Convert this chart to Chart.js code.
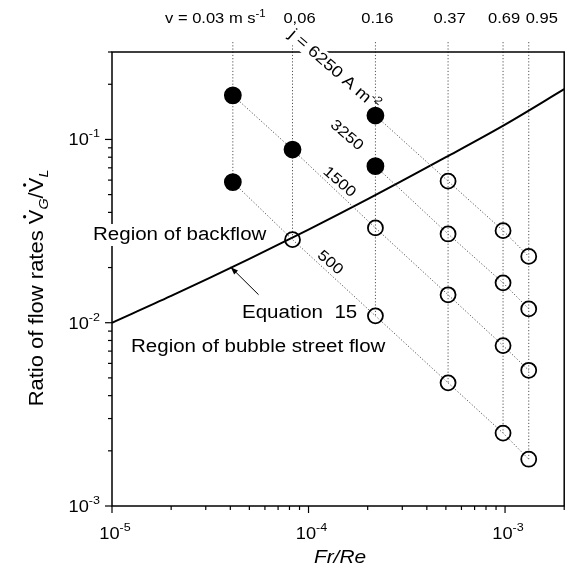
<!DOCTYPE html>
<html>
<head>
<meta charset="utf-8">
<script src="https://cdn.jsdelivr.net/npm/chart.js@4.4.0/dist/chart.umd.min.js"></script>
<style>
  html, body { margin: 0; padding: 0; background: #fff; }
  #wrap { width: 574px; height: 579px; }
</style>
</head>
<body>
<div id="wrap"><canvas id="chart" width="574" height="579"></canvas></div>
<script>
// Fr/Re of the six columns (one per gas velocity v)
const frRe = [4.12e-5, 8.29e-5, 2.19e-4, 5.13e-4, 9.77e-4, 1.32e-3];
const velocityLabels = ['0.03', '0,06', '0.16', '0.37', '0.69', '0.95'];

// ratio of flow rates per current density j (null = no point)
const j6250 = [null, null, 0.135, 0.0592, 0.0318, 0.0230];
const j3250 = [null, null, 0.0715, 0.0305, 0.0165, 0.0119];
const j1500 = [0.174, 0.0881, 0.0329, 0.0142, 0.0075, 0.0055];
const j500  = [0.0585, 0.0284, 0.0109, 0.0047, 0.0025, 0.0018];

// 1 = backflow (filled marker), 0 = bubble street flow (open marker)
const back6250 = [0, 0, 1, 0, 0, 0];
const back3250 = [0, 0, 1, 0, 0, 0];
const back1500 = [1, 1, 0, 0, 0, 0];
const back500  = [1, 0, 0, 0, 0, 0];

// Equation 15 boundary line
const eqX = [1e-5, 2e-5, 5e-5, 1e-4, 2e-4, 5e-4, 1e-3, 2e-3];
const eqY = [0.0100, 0.0140, 0.0223, 0.0322, 0.0472, 0.0800, 0.1205, 0.188];

// vertical guide lines start a little above the frame
const guideTop = 0.34;

const FONT = '"Liberation Sans", Arial, sans-serif';

function fontOf(r) {
  return (r.italic ? 'italic ' : '') + r.size + 'px ' + FONT;
}

// draws a row of text runs (for superscripts / subscripts)
function drawRuns(ctx, runs, x, y, o = {}) {
  const sx = o.sx || 1.14;
  ctx.save();
  ctx.translate(x, y);
  if (o.rot) ctx.rotate(o.rot);
  ctx.scale(sx, 1);
  ctx.textAlign = 'left';
  ctx.textBaseline = 'alphabetic';
  let total = 0;
  runs.forEach((r) => {
    ctx.font = fontOf(r);
    r.w = ctx.measureText(r.t).width;
    total += r.w;
  });
  let cx = o.align === 'center' ? -total / 2 : o.align === 'right' ? -total : 0;
  const vs = o.vshift || 0;
  if (o.bg) {
    const bw = o.bgFirstOnly ? runs[0].w : total;
    ctx.fillStyle = '#fff';
    ctx.fillRect(cx - 2, vs - o.bg[0], bw + 3, o.bg[0] + o.bg[1]);
  }
  ctx.fillStyle = '#000';
  runs.forEach((r) => {
    ctx.font = fontOf(r);
    ctx.fillText(r.t, cx, vs + (r.dy || 0));
    if (r.dot) {
      ctx.beginPath();
      ctx.arc(cx + r.w * 0.5, vs - r.size * 0.72 - 4, 1.6, 0, Math.PI * 2);
      ctx.fill();
    }
    cx += r.w;
  });
  ctx.restore();
}

function logTicks(min, max) {
  const out = [];
  for (let e = Math.floor(Math.log10(min)); e <= Math.ceil(Math.log10(max)); e++) {
    for (let m = 1; m < 10; m++) {
      const v = m * Math.pow(10, e);
      if (v >= min * 0.999 && v <= max * 1.001) out.push({ v, major: m === 1, e });
    }
  }
  return out;
}

function jSeries(label, vals, back) {
  const idx = vals.map((v, i) => i).filter((i) => vals[i] !== null);
  return {
    label,
    data: idx.map((i) => ({ x: frRe[i], y: vals[i] })),
    borderColor: '#555',
    borderWidth: 1,
    borderDash: [1.2, 2],
    pointRadius: idx.map((i) => (back[i] ? 8 : 7.5)),
    pointBorderColor: '#000',
    pointBorderWidth: 1.8,
    pointBackgroundColor: idx.map((i) => (back[i] ? '#000' : 'rgba(0,0,0,0)')),
    order: 1,
  };
}

const allSeries = [j6250, j3250, j1500, j500];
const guides = frRe.map((x, i) => {
  const lowest = Math.min(...allSeries.map((s) => s[i]).filter((v) => v !== null));
  return {
    label: 'v' + i,
    data: [{ x, y: guideTop }, { x, y: lowest }],
    borderColor: '#555',
    borderWidth: 1,
    borderDash: [1.2, 2],
    pointRadius: 0,
    clip: false,
    order: 3,
  };
});

const annotations = {
  id: 'annotations',
  afterDraw(chart) {
    const ctx = chart.ctx;
    const xs = chart.scales.x;
    const ys = chart.scales.y;
    const a = chart.chartArea;

    // frame
    ctx.save();
    ctx.strokeStyle = '#000';
    ctx.lineWidth = 1.5;
    ctx.strokeRect(a.left, a.top, a.right - a.left, a.bottom - a.top);

    // tick marks and labels
    ctx.lineWidth = 1.2;
    logTicks(xs.min, xs.max).forEach((t) => {
      const px = xs.getPixelForValue(t.v);
      ctx.beginPath();
      ctx.moveTo(px, a.bottom);
      ctx.lineTo(px, a.bottom + (t.major ? 7 : 4));
      ctx.stroke();
      if (t.major) {
        drawRuns(ctx, [{ t: '10', size: 16 }, { t: String(t.e), size: 11, dy: -8 }], px + 3, 539, { align: 'center' });
      }
    });
    logTicks(ys.min, ys.max).forEach((t) => {
      const py = ys.getPixelForValue(t.v);
      ctx.beginPath();
      ctx.moveTo(a.left, py);
      ctx.lineTo(a.left - (t.major ? 7 : 4), py);
      ctx.stroke();
      if (t.major) {
        drawRuns(ctx, [{ t: '10', size: 16 }, { t: String(t.e), size: 11, dy: -8 }], a.left - 12, py + 6, { align: 'right' });
      }
    });
    ctx.restore();

    // velocity labels on top
    const dx = [-17.5, 7, 2, 1.5, 1, 13];
    frRe.forEach((x, i) => {
      const px = xs.getPixelForValue(x) + dx[i];
      const runs = i === 0
        ? [{ t: 'v = ' + velocityLabels[i] + ' m s', size: 14.5 }, { t: '-1', size: 10, dy: -6 }]
        : [{ t: velocityLabels[i], size: 14.5 }];
      drawRuns(ctx, runs, px, 22.5, { align: 'center' });
    });

    // current density labels along the lines
    const rot = 41 * Math.PI / 180;
    const jl = [
      { runs: [{ t: 'j = 6250 A m', size: 16 }, { t: '-2', size: 11, dy: -7 }], x: 1.36e-4, y: 0.2413, bg: true },
      { runs: [{ t: '3250', size: 15 }], x: 1.58e-4, y: 0.1065 },
      { runs: [{ t: '1500', size: 15 }], x: 1.45e-4, y: 0.0592 },
      { runs: [{ t: '500', size: 15 }], x: 1.30e-4, y: 0.0215 },
    ];
    jl.forEach((l) => {
      drawRuns(ctx, l.runs, xs.getPixelForValue(l.x), ys.getPixelForValue(l.y), {
        align: 'center', rot, vshift: 5.5, bg: l.bg ? [14, 4] : null, bgFirstOnly: true,
      });
    });

    // region texts
    drawRuns(ctx, [{ t: 'Region of backflow', size: 18 }], a.left - 19, 240, { bg: [16, 6] });
    drawRuns(ctx, [{ t: 'Equation  15', size: 18 }], 242, 318);
    drawRuns(ctx, [{ t: 'Region of bubble street flow', size: 18 }], 131, 352);

    // arrow to the Equation 15 line
    const tipX = xs.getPixelForValue(4.02e-5), tipY = ys.getPixelForValue(0.0201);
    const tailX = xs.getPixelForValue(5.57e-5), tailY = ys.getPixelForValue(0.01422);
    const ang = Math.atan2(tipY - tailY, tipX - tailX);
    ctx.save();
    ctx.strokeStyle = '#000';
    ctx.fillStyle = '#000';
    ctx.lineWidth = 1;
    ctx.beginPath();
    ctx.moveTo(tailX, tailY);
    ctx.lineTo(tipX, tipY);
    ctx.stroke();
    ctx.beginPath();
    ctx.moveTo(tipX, tipY);
    ctx.lineTo(tipX - 8 * Math.cos(ang - 0.35), tipY - 8 * Math.sin(ang - 0.35));
    ctx.lineTo(tipX - 8 * Math.cos(ang + 0.35), tipY - 8 * Math.sin(ang + 0.35));
    ctx.closePath();
    ctx.fill();
    ctx.restore();

    // axis titles
    drawRuns(ctx, [{ t: 'Fr/Re', size: 19, italic: true }], 340, 563, { align: 'center', sx: 1.1 });
    drawRuns(ctx, [
      { t: 'Ratio of flow rates ', size: 20 },
      { t: 'V', size: 20, dot: true },
      { t: 'G', size: 13, italic: true, dy: 5 },
      { t: '/', size: 20 },
      { t: 'V', size: 20, dot: true },
      { t: 'L', size: 13, italic: true, dy: 5 },
    ], 43, 288, { align: 'center', rot: -Math.PI / 2, sx: 1.1 });
  },
};

new Chart(document.getElementById('chart'), {
  type: 'line',
  data: {
    datasets: [
      {
        label: 'Equation 15',
        data: eqX.map((x, i) => ({ x, y: eqY[i] })),
        borderColor: '#000',
        borderWidth: 2,
        pointRadius: 0,
        cubicInterpolationMode: 'monotone',
        order: 2,
      },
      jSeries('j = 6250', j6250, back6250),
      jSeries('j = 3250', j3250, back3250),
      jSeries('j = 1500', j1500, back1500),
      jSeries('j = 500', j500, back500),
      ...guides,
    ],
  },
  options: {
    responsive: false,
    animation: false,
    events: [],
    devicePixelRatio: 1,
    layout: { padding: { left: 112, top: 52, right: 4, bottom: 73 } },
    plugins: { legend: { display: false }, tooltip: { enabled: false } },
    scales: {
      x: { type: 'logarithmic', min: 1e-5, max: 2e-3, display: false },
      y: { type: 'logarithmic', min: 1e-3, max: 0.3, display: false },
    },
  },
  plugins: [annotations],
});
</script>
</body>
</html>
